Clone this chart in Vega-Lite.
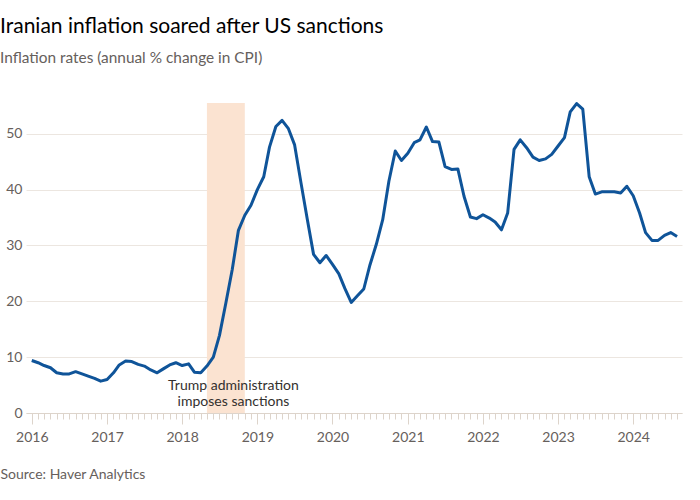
{
  "$schema": "https://vega.github.io/schema/vega-lite/v6.json",
  "width": 656,
  "height": 310,
  "autosize": "none",
  "padding": {"left": 26, "top": 103, "right": 18, "bottom": 87},
  "background": "#ffffff",
  "config": {
    "view": {"stroke": null},
    "font": "Lato"
  },
  "title": {
    "text": "Iranian inflation soared after US sanctions",
    "subtitle": "Inflation rates (annual % change in CPI)",
    "anchor": "start",
    "frame": "group",
    "dx": -26,
    "font": "Lato",
    "fontSize": 21,
    "fontWeight": "normal",
    "color": "#000000",
    "subtitleFont": "Lato",
    "subtitleFontSize": 15.4,
    "subtitleColor": "#66605c",
    "subtitlePadding": 14,
    "offset": 36
  },
  "datasets": {
    "cpi": [
      {"date": "2016-01-01", "v": 9.4}, {"date": "2016-02-01", "v": 9.0}, {"date": "2016-03-01", "v": 8.5},
      {"date": "2016-04-01", "v": 8.1}, {"date": "2016-05-01", "v": 7.2}, {"date": "2016-06-01", "v": 7.0},
      {"date": "2016-07-01", "v": 7.0}, {"date": "2016-08-01", "v": 7.4}, {"date": "2016-09-01", "v": 7.0},
      {"date": "2016-10-01", "v": 6.6}, {"date": "2016-11-01", "v": 6.2}, {"date": "2016-12-01", "v": 5.7},
      {"date": "2017-01-01", "v": 6.0}, {"date": "2017-02-01", "v": 7.2}, {"date": "2017-03-01", "v": 8.6},
      {"date": "2017-04-01", "v": 9.3}, {"date": "2017-05-01", "v": 9.2}, {"date": "2017-06-01", "v": 8.7},
      {"date": "2017-07-01", "v": 8.4}, {"date": "2017-08-01", "v": 7.7}, {"date": "2017-09-01", "v": 7.2},
      {"date": "2017-10-01", "v": 7.9}, {"date": "2017-11-01", "v": 8.6}, {"date": "2017-12-01", "v": 9.0},
      {"date": "2018-01-01", "v": 8.5}, {"date": "2018-02-01", "v": 8.8}, {"date": "2018-03-01", "v": 7.3},
      {"date": "2018-04-01", "v": 7.2}, {"date": "2018-05-01", "v": 8.4}, {"date": "2018-06-01", "v": 10.0},
      {"date": "2018-07-01", "v": 13.9}, {"date": "2018-08-01", "v": 19.7}, {"date": "2018-09-01", "v": 25.7},
      {"date": "2018-10-01", "v": 32.7}, {"date": "2018-11-01", "v": 35.4}, {"date": "2018-12-01", "v": 37.2},
      {"date": "2019-01-01", "v": 40.0}, {"date": "2019-02-01", "v": 42.3}, {"date": "2019-03-01", "v": 47.6},
      {"date": "2019-04-01", "v": 51.3}, {"date": "2019-05-01", "v": 52.4}, {"date": "2019-06-01", "v": 50.9},
      {"date": "2019-07-01", "v": 48.0}, {"date": "2019-08-01", "v": 41.2}, {"date": "2019-09-01", "v": 34.6},
      {"date": "2019-10-01", "v": 28.4}, {"date": "2019-11-01", "v": 26.9}, {"date": "2019-12-01", "v": 28.2},
      {"date": "2020-01-01", "v": 26.6}, {"date": "2020-02-01", "v": 24.9}, {"date": "2020-03-01", "v": 22.3},
      {"date": "2020-04-01", "v": 19.8}, {"date": "2020-05-01", "v": 21.0}, {"date": "2020-06-01", "v": 22.2},
      {"date": "2020-07-01", "v": 26.5}, {"date": "2020-08-01", "v": 30.2}, {"date": "2020-09-01", "v": 34.6},
      {"date": "2020-10-01", "v": 41.5}, {"date": "2020-11-01", "v": 46.9}, {"date": "2020-12-01", "v": 45.2},
      {"date": "2021-01-01", "v": 46.5}, {"date": "2021-02-01", "v": 48.4}, {"date": "2021-03-01", "v": 48.9},
      {"date": "2021-04-01", "v": 51.2}, {"date": "2021-05-01", "v": 48.6}, {"date": "2021-06-01", "v": 48.5},
      {"date": "2021-07-01", "v": 44.1}, {"date": "2021-08-01", "v": 43.6}, {"date": "2021-09-01", "v": 43.7},
      {"date": "2021-10-01", "v": 38.8}, {"date": "2021-11-01", "v": 35.1}, {"date": "2021-12-01", "v": 34.8},
      {"date": "2022-01-01", "v": 35.5}, {"date": "2022-02-01", "v": 34.9}, {"date": "2022-03-01", "v": 34.2},
      {"date": "2022-04-01", "v": 32.8}, {"date": "2022-05-01", "v": 35.8}, {"date": "2022-06-01", "v": 47.2},
      {"date": "2022-07-01", "v": 48.9}, {"date": "2022-08-01", "v": 47.5}, {"date": "2022-09-01", "v": 45.8},
      {"date": "2022-10-01", "v": 45.2}, {"date": "2022-11-01", "v": 45.5}, {"date": "2022-12-01", "v": 46.3},
      {"date": "2023-01-01", "v": 47.8}, {"date": "2023-02-01", "v": 49.3}, {"date": "2023-03-01", "v": 53.9},
      {"date": "2023-04-01", "v": 55.4}, {"date": "2023-05-01", "v": 54.4}, {"date": "2023-06-01", "v": 42.3},
      {"date": "2023-07-01", "v": 39.2}, {"date": "2023-08-01", "v": 39.6}, {"date": "2023-09-01", "v": 39.6},
      {"date": "2023-10-01", "v": 39.6}, {"date": "2023-11-01", "v": 39.4}, {"date": "2023-12-01", "v": 40.6},
      {"date": "2024-01-01", "v": 38.9}, {"date": "2024-02-01", "v": 35.8}, {"date": "2024-03-01", "v": 32.3},
      {"date": "2024-04-01", "v": 30.9}, {"date": "2024-05-01", "v": 30.9}, {"date": "2024-06-01", "v": 31.8},
      {"date": "2024-07-01", "v": 32.3}, {"date": "2024-08-01", "v": 31.6}
    ],
    "period": [
      {"start": "2018-05-01", "end": "2018-11-01"}
    ],
    "note": [
      {"date": "2018-09-07", "v": 4.9, "label": ["Trump administration", "imposes sanctions"]}
    ]
  },
  "layer": [
    {
      "data": {"name": "period"},
      "mark": {"type": "rect", "color": "#fbe3d1"},
      "encoding": {
        "x": {"field": "start", "type": "temporal"},
        "x2": {"field": "end"}
      }
    },
    {
      "data": {"name": "cpi"},
      "mark": {"type": "line", "color": "#0f5499", "strokeWidth": 3, "strokeJoin": "round"},
      "encoding": {
        "x": {
          "field": "date",
          "type": "temporal",
          "scale": {"type": "utc", "domain": ["2015-12-04", "2024-08-25"]},
          "axis": {
            "tickCount": {"interval": "month", "step": 1},
            "labelExpr": "utcmonth(datum.value) === 0 ? utcFormat(datum.value, '%Y') : ''",
            "labelOverlap": false,
            "labelFlush": false,
            "tickSize": {"condition": {"test": "utcmonth(datum.value) === 0", "value": 11}, "value": 6},
            "tickColor": "#ddd4cb",
            "domainColor": "#ddd4cb",
            "grid": false,
            "labelFont": "Lato",
            "labelFontSize": 14,
            "labelColor": "#66605c",
            "labelPadding": 6,
            "title": "Source: Haver Analytics",
            "titleFont": "Lato",
            "titleFontSize": 14,
            "titleFontWeight": "normal",
            "titleColor": "#66605c",
            "titleAnchor": "start",
            "titleAlign": "left",
            "titleBaseline": "alphabetic",
            "titleX": -26,
            "titleY": 65
          }
        },
        "y": {
          "field": "v",
          "type": "quantitative",
          "scale": {"domain": [0, 55.5], "nice": false},
          "axis": {
            "values": [0, 10, 20, 30, 40, 50],
            "domain": false,
            "ticks": false,
            "grid": true,
            "gridColor": "#ece6e0",
            "labelFont": "Lato",
            "labelFontSize": 14,
            "labelColor": "#66605c",
            "labelPadding": 4,
            "title": null
          }
        }
      }
    },
    {
      "data": {"name": "note"},
      "mark": {"type": "text", "font": "Lato", "fontSize": 14, "color": "#33302e", "align": "center", "baseline": "middle", "lineHeight": 16},
      "encoding": {
        "x": {"field": "date", "type": "temporal"},
        "y": {"field": "v", "type": "quantitative"},
        "text": {"field": "label"}
      }
    }
  ]
}
